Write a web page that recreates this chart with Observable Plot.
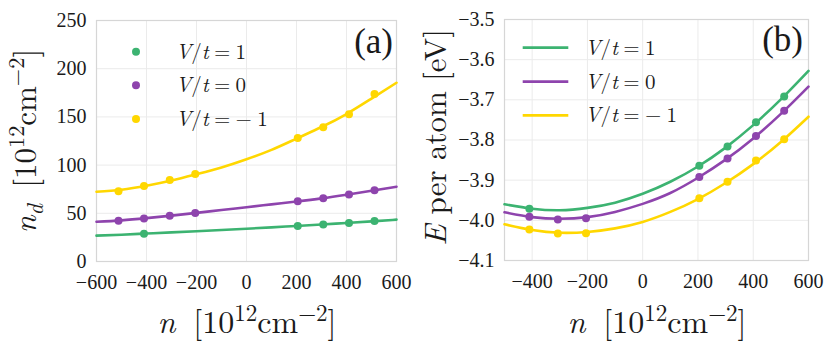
<!DOCTYPE html>
<html><head><meta charset="utf-8">
<script src="https://cdn.jsdelivr.net/npm/d3@7"></script>
<script src="https://cdn.jsdelivr.net/npm/@observablehq/plot@0.6"></script>
<style>
body{margin:0;background:#fff;}
#wrap{display:flex;width:830px;height:347px;overflow:hidden;}
#wrap svg{display:block;flex:none;}
</style></head><body><div id="wrap"></div>
<script>
// ---- series (V/t values) ----
const seriesLabels = ["1", "0", "−1"];
const seriesColors = ["#3cb371", "#8e44ad", "#ffd700"];

// ---- sampled doping values n [10^12 cm^-2] ----
const pointN = [-512, -410, -307, -205, 205, 307, 410, 512];

// ---- panel (a): n_d data points ----
const ndGreen  = [null, 28.8, null, null, 36.8, 38.5, 39.9, 42.0];
const ndPurple = [42.3, 44.7, 47.5, 50.3, 62.4, 65.5, 69.6, 73.8];
const ndYellow = [72.8, 78.4, 84.6, 90.8, 128.1, 139.2, 152.7, 173.7];

// ---- panel (a): fitted curves ----
const fitNA = [-600, -500, -400, -300, -200, -100, 0, 100, 200, 300, 400, 500, 600];
const fitNdGreen  = [26.8, 27.8, 29.0, 30.2, 31.4, 32.7, 34.0, 35.4, 36.9, 38.4, 40.0, 41.6, 43.4];
const fitNdPurple = [41.2, 42.7, 45.0, 47.6, 50.4, 53.4, 56.3, 59.3, 62.3, 65.5, 69.3, 73.4, 77.6];
const fitNdYellow = [72.4, 74.5, 78.6, 84.0, 90.5, 97.5, 106.0, 115.8, 127.5, 139.5, 153.0, 169.0, 185.4];

// ---- panel (b): energy per atom data points [eV] ----
const eGreen  = [null, -3.971, null, null, -3.864, -3.816, -3.756, -3.692];
const ePurple = [null, -3.991, -3.998, -3.995, -3.892, -3.846, -3.790, -3.727];
const eYellow = [null, -4.023, -4.033, -4.032, -3.945, -3.904, -3.851, -3.798];

// ---- panel (b): fitted curves ----
const fitNB = [-500, -400, -300, -200, -100, 0, 100, 200, 300, 400, 500, 600];
const fitEGreen  = [-3.960, -3.971, -3.975, -3.969, -3.956, -3.934, -3.904, -3.866, -3.819, -3.763, -3.699, -3.628];
const fitEPurple = [-3.980, -3.992, -3.996, -3.992, -3.979, -3.959, -3.932, -3.894, -3.849, -3.796, -3.735, -3.667];
const fitEYellow = [-4.010, -4.024, -4.031, -4.029, -4.020, -4.004, -3.979, -3.947, -3.907, -3.860, -3.805, -3.742];

// ---- ticks ----
const ticksXA = [-600, -400, -200, 0, 200, 400, 600];
const ticksYA = [0, 50, 100, 150, 200, 250];
const ticksXB = [-400, -200, 0, 200, 400, 600];
const ticksYB = [-4.1, -4.0, -3.9, -3.8, -3.7, -3.6, -3.5];

// ---- build tables ----
function table(xs, cols) {
  const out = [];
  cols.forEach((col, i) => col.forEach((v, j) => {
    if (v != null) out.push({n: xs[j], v, s: seriesLabels[i]});
  }));
  return out;
}
const ptsA = table(pointN, [ndGreen, ndPurple, ndYellow]);
const fitA = table(fitNA, [fitNdGreen, fitNdPurple, fitNdYellow]);
const ptsB = table(pointN, [eGreen, ePurple, eYellow]);
const fitB = table(fitNB, [fitEGreen, fitEPurple, fitEYellow]);

const TIMES = '"Liberation Serif", serif';
const MATH = '"Latin Modern Roman", "Liberation Serif", serif';
const GRID = "#ebebeb";
const FRAME = "#d6d6d6";
const TXT = "#1a1a1a";

function panel(o) {
  const svg = Plot.plot({
    width: 415, height: 347,
    marginLeft: o.ml, marginRight: o.mr, marginTop: o.mt, marginBottom: o.mb,
    style: {fontFamily: TIMES, fontSize: "20px", color: TXT, background: "white", overflow: "visible"},
    x: {domain: o.xd},
    y: {domain: o.yd},
    color: {domain: seriesLabels, range: seriesColors},
    marks: [
      Plot.gridX(o.tx, {stroke: GRID, strokeOpacity: 1, strokeWidth: 1}),
      Plot.gridY(o.ty, {stroke: GRID, strokeOpacity: 1, strokeWidth: 1}),
      Plot.frame({stroke: FRAME, strokeWidth: 1.2}),
      Plot.axisX(o.tx, {tickSize: 0, tickPadding: 13, label: null, fontSize: 20}),
      Plot.axisY(o.ty, {tickSize: 0, tickPadding: 10, label: null, fontSize: 20, tickFormat: o.fmt}),
      Plot.line(o.fit, {x: "n", y: "v", z: "s", stroke: "s", strokeWidth: 2.6, curve: "natural"}),
      Plot.dot(o.pts, {x: "n", y: "v", fill: "s", r: 4})
    ]
  });
  // force serif tick labels
  svg.setAttribute("font-family", TIMES);
  d3.select(svg).selectAll("text").each(function () {
    this.setAttribute("font-family", TIMES);
    this.style.setProperty("font-family", TIMES, "important");
  });
  d3.select(svg).selectAll("g").each(function () {
    if (this.hasAttribute("font-family")) this.setAttribute("font-family", TIMES);
  });
  return svg;
}

function fontify(sel, fam) {
  sel.attr("font-family", fam);
  sel.node().style.setProperty("font-family", fam, "important");
  return sel;
}
function mathText(sel, parts, size, fam = MATH) {
  const t = sel.append("text").attr("fill", TXT).attr("text-anchor", "start")
    .style("font-size", size + "px");
  fontify(t, fam);
  let cur = 0;
  parts.forEach(([s, p = {}]) => {
    const ts = t.append("tspan").text(s);
    if (p.italic) ts.style("font-style", "italic");
    const sh = p.shift || 0;
    if (sh !== cur) { ts.attr("dy", sh - cur); cur = sh; }
    if (p.scale) ts.style("font-size", (size * p.scale) + "px");
  });
  return t;
}
const unitParts = (sz) => [
  ["\u2009[10"], ["12", {shift: -0.38 * sz, scale: 0.72}], ["cm", {shift: 0}],
  ["−2", {shift: -0.38 * sz, scale: 0.72}], ["]", {shift: 0}]
];
const legendParts = (s) => [["V", {italic: true}], ["/"], ["t", {italic: true}], ["\u2005=\u2005" + s.replace("−", "−\u2005")]];

const wrap = document.getElementById("wrap");

// ---------- panel (a) ----------
const A = panel({ml: 96, mr: 19, mt: 20, mb: 86, xd: [-600, 600], yd: [0, 250],
  tx: ticksXA, ty: ticksYA, fit: fitA, pts: ptsA, fmt: d3.format("d")});
wrap.appendChild(A);
{
  const svg = d3.select(A);
  const xs = 32;
  mathText(svg, [["n ", {italic: true}], ...unitParts(xs)], xs)
    .attr("x", 247).attr("y", 333).attr("text-anchor", "middle");
  mathText(svg, [["n", {italic: true}], ["d", {italic: true, shift: 0.22 * xs, scale: 0.72}], [" ", {shift: 0}], ...unitParts(xs)], 31)
    .attr("text-anchor", "middle").attr("transform", "translate(36,141) rotate(-90)");
  fontify(svg.append("text").text("(a)").attr("x", 393).attr("y", 53).attr("text-anchor", "end")
    .attr("fill", TXT).style("font-size", "35px"), TIMES);
  const ly = [51.7, 85.3, 119];
  seriesLabels.forEach((s, i) => {
    svg.append("circle").attr("cx", 136).attr("cy", ly[i]).attr("r", 4).attr("fill", seriesColors[i]);
    mathText(svg, legendParts(s), 21).attr("x", 175.7).attr("y", ly[i] + 7);
  });
}

// ---------- panel (b) ----------
const B = panel({ml: 89, mr: 22, mt: 19, mb: 87, xd: [-500, 600], yd: [-4.1, -3.5],
  tx: ticksXB, ty: ticksYB, fit: fitB, pts: ptsB, fmt: d3.format(".1f")});
wrap.appendChild(B);
{
  const svg = d3.select(B);
  const xs = 32;
  mathText(svg, [["n ", {italic: true}], ...unitParts(xs)], xs)
    .attr("x", 242).attr("y", 333).attr("text-anchor", "middle");
  mathText(svg, [["E", {italic: true}], [" per atom [eV]"]], 31)
    .attr("text-anchor", "middle").attr("transform", "translate(31,137.5) rotate(-90)");
  fontify(svg.append("text").text("(b)").attr("x", 388).attr("y", 51).attr("text-anchor", "end")
    .attr("fill", TXT).style("font-size", "35px"), TIMES);
  const ly = [47.7, 81.7, 115.3];
  seriesLabels.forEach((s, i) => {
    svg.append("line").attr("x1", 107.7).attr("x2", 153.3).attr("y1", ly[i]).attr("y2", ly[i])
      .attr("stroke", seriesColors[i]).attr("stroke-width", 2.7);
    mathText(svg, legendParts(s), 21).attr("x", 170).attr("y", ly[i] + 7);
  });
}
</script></body></html>
